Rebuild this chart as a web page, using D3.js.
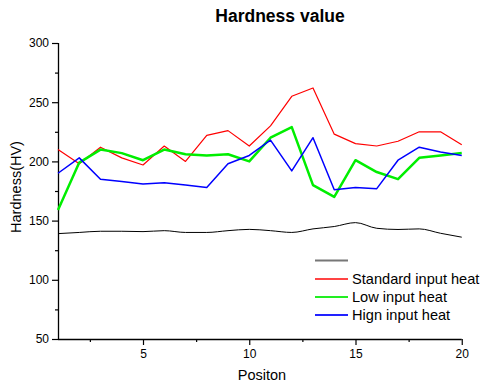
<!DOCTYPE html>
<html><head><meta charset="utf-8">
<script src="https://cdn.jsdelivr.net/npm/d3@7"></script>
<style>body{margin:0;background:#fff}svg{display:block}text{font-family:"Liberation Sans",Arial,sans-serif;fill:#000}</style>
</head><body>
<svg id="c" width="482" height="385"></svg>
<script>
const positions = d3.range(1, 21);
const baseline = [139,140,141,141,140.7,141.5,140,140,141.5,142.6,141.5,140,143,145,148.3,143.5,142.5,143,139.3,136];
const standardHeat = [210,198,212,203,197,213,200,222,226,213,230,255,262,223,215,213,217,225,225,214];
const lowHeat = [159,199,210,207,201,210,206,205,206,200,220,229,180,170,201,191,185,203,205,207];
const highHeat = [190,203,185,183,181,182,180,178,198,205,218,192,220,176,178,177,201,212,208,205];
const seriesNames = ["", "Standard input heat", "Low input heat", "Hign input heat"];
const yMajorTicks = [50,100,150,200,250,300];
const xMajorTicks = [5,10,15,20];

const svg = d3.select("#c");
const x = d3.scaleLinear().domain([1,20]).range([58,461.75]);
const y = d3.scaleLinear().domain([50,300]).range([339,43]);

// axes
const yAxis = svg.append("g").attr("transform","translate(58,0)")
  .call(d3.axisLeft(y).tickValues(yMajorTicks).tickSize(6).tickPadding(3));
svg.append("g").attr("transform","translate(58,0)")
  .call(d3.axisLeft(y).tickValues(d3.range(75,300,50)).tickSize(3).tickFormat(""))
  .select(".domain").remove();
const xAxis = svg.append("g").attr("transform","translate(0,339)")
  .call(d3.axisBottom(x).tickValues(xMajorTicks).tickSize(6).tickPadding(4));
svg.append("g").attr("transform","translate(0,339)")
  .call(d3.axisBottom(x).tickValues([2.5,7.5,12.5,17.5]).tickSize(3).tickFormat(""))
  .select(".domain").remove();
svg.selectAll(".domain").attr("stroke","#000").attr("stroke-width",1.3);
svg.selectAll(".tick line").attr("stroke","#000").attr("stroke-width",1.2);
svg.selectAll(".tick text").style("font-size","12px").attr("fill","#000");
yAxis.selectAll(".domain").attr("d","M0.5,339V43");
xAxis.selectAll(".domain").attr("d","M58,0.5H461.75");

// lines
const series = [
  {v: baseline, color:"#000", w:1, curve:d3.curveMonotoneX},
  {v: standardHeat, color:"#ff0000", w:1.2, curve:d3.curveLinear},
  {v: lowHeat, color:"#00ee00", w:2.5, curve:d3.curveLinear},
  {v: highHeat, color:"#0000ff", w:1.5, curve:d3.curveLinear}
];
series.forEach(s=>{
  const line = d3.line().x((d,i)=>x(positions[i])).y(d=>y(d)).curve(s.curve);
  svg.append("path").datum(s.v).attr("d",line).attr("fill","none")
    .attr("stroke",s.color).attr("stroke-width",s.w).attr("stroke-linejoin","round");
});

// legend
const legColors = ["#777","#ff4444","#22ee22","#2222ff"];
const legY = [260.5,279,297,315];
seriesNames.forEach((n,i)=>{
  svg.append("line").attr("x1",315).attr("x2",348).attr("y1",legY[i]).attr("y2",legY[i])
    .attr("stroke",legColors[i]).attr("stroke-width",2);
  if(n) svg.append("text").attr("x",352).attr("y",legY[i]+5).style("font-size","14.6px").text(n);
});

// titles
svg.append("text").attr("x",280).attr("y",22).attr("text-anchor","middle")
  .style("font-size","17.5px").style("font-weight","bold").text("Hardness value");
svg.append("text").attr("transform","translate(21,187) rotate(-90)").attr("text-anchor","middle")
  .style("font-size","14.5px").text("Hardness(HV)");
svg.append("text").attr("x",262).attr("y",380).attr("text-anchor","middle")
  .style("font-size","14.5px").text("Positon");
</script>
</body></html>
